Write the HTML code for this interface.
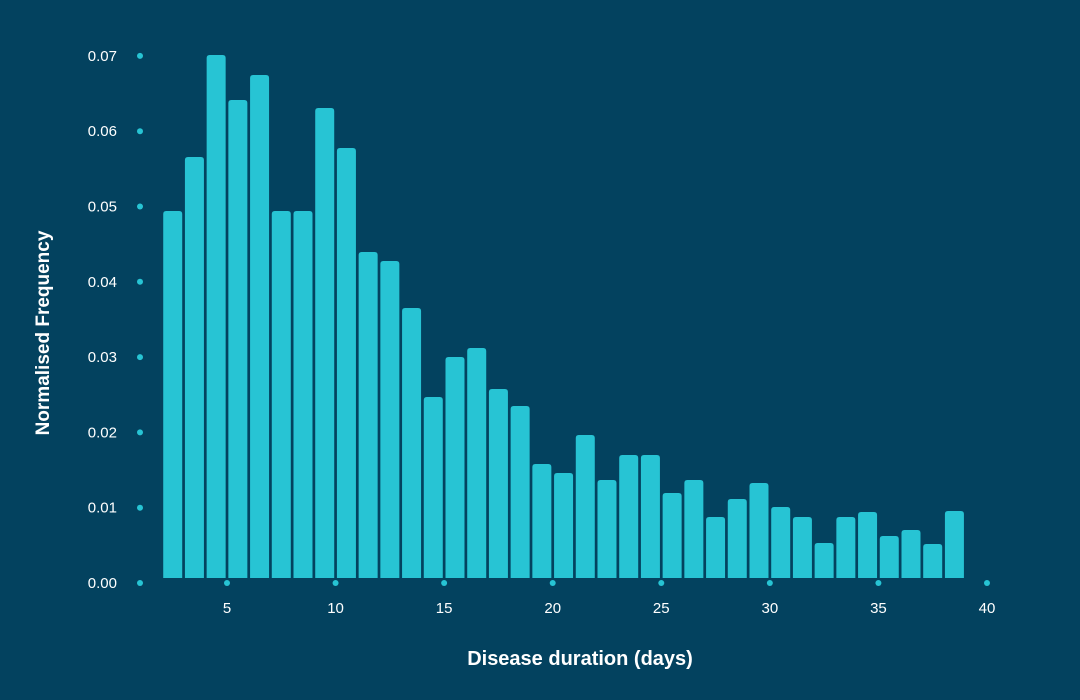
<!DOCTYPE html>
<html><head><meta charset="utf-8"><style>
html,body{margin:0;padding:0;background:#03425f;}
svg{display:block;font-family:"Liberation Sans",sans-serif;}
</style></head><body>
<svg width="1080" height="700" viewBox="0 0 1080 700" xmlns="http://www.w3.org/2000/svg">
<rect width="1080" height="700" fill="#03425f"/>
<g id="bars" fill="#27c4d4"></g>
<g fill="#27c4d4" id="dots"></g>
<g fill="#ffffff" font-size="15" id="labels"></g>
<text x="580" y="665" fill="#fff" font-size="20" font-weight="bold" text-anchor="middle">Disease duration (days)</text>
<text transform="translate(49,333) rotate(-90)" fill="#fff" font-size="19" font-weight="bold" text-anchor="middle">Normalised Frequency</text>
<script>
var tops=[211,157,55,100,75,211,211,108,148,252,261,308,397,357,348,389,406,464,473,435,480,455,455,493,480,517,499,483,507,517,543,517,512,536,530,544,511];
var ns="http://www.w3.org/2000/svg";
var b=document.getElementById('bars');
function X(v){return 227+(v-5)*21.714;}
function Y(v){return 583-v*7530;}
tops.forEach(function(t,i){
 var c=X(2.5+i), w=19, x=c-w/2, h=578-t, r=3;
 var p=document.createElementNS(ns,'path');
 p.setAttribute('d','M'+x+',578 V'+(t+r)+' Q'+x+','+t+' '+(x+r)+','+t+' H'+(x+w-r)+' Q'+(x+w)+','+t+' '+(x+w)+','+(t+r)+' V578 Z');
 b.appendChild(p);
});
var d=document.getElementById('dots'),l=document.getElementById('labels');
for(var k=0;k<=7;k++){
 var y=Y(k/100);
 var c=document.createElementNS(ns,'circle');c.setAttribute('cx',140);c.setAttribute('cy',y);c.setAttribute('r',3);d.appendChild(c);
 var t=document.createElementNS(ns,'text');t.setAttribute('x',117);t.setAttribute('y',y+5);t.setAttribute('text-anchor','end');t.textContent=(k/100).toFixed(2);l.appendChild(t);
}
for(var v=5;v<=40;v+=5){
 var x=X(v);
 var c=document.createElementNS(ns,'circle');c.setAttribute('cx',x);c.setAttribute('cy',583);c.setAttribute('r',3);d.appendChild(c);
 var t=document.createElementNS(ns,'text');t.setAttribute('x',x);t.setAttribute('y',613);t.setAttribute('text-anchor','middle');t.textContent=v;l.appendChild(t);
}
</script>
</svg>
</body></html>
